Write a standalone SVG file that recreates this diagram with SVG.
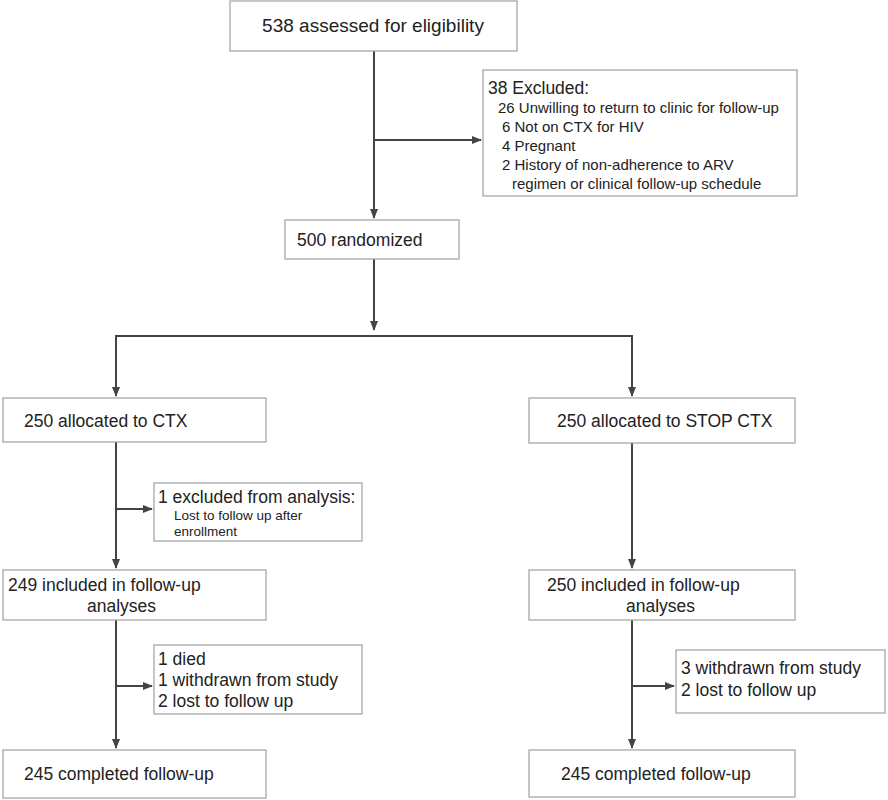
<svg xmlns="http://www.w3.org/2000/svg" width="888" height="800" viewBox="0 0 888 800">
<style>
.b{fill:#fff;stroke:#a0a0a0;stroke-width:1.2}
.l{stroke:#444;stroke-width:2;fill:none}
text{font-family:"Liberation Sans",Arial,sans-serif;fill:#222}
.m{font-size:17.5px}
.s{font-size:15px}
.t{font-size:13.5px}
</style>
<defs><marker id="a" markerWidth="10" markerHeight="8" refX="9" refY="4" orient="auto" markerUnits="userSpaceOnUse"><path d="M0,0L10,4L0,8z" fill="#444"/></marker></defs>
<rect width="888" height="800" fill="#fff"/>
<g id="connectors">
<path class="l" d="M374,51V218" marker-end="url(#a)"/>
<path class="l" d="M374,140H481" marker-end="url(#a)"/>
<path class="l" d="M374,259V330" marker-end="url(#a)"/>
<path class="l" d="M116,396V336H632V396" />
<path class="l" d="M116,380V396" marker-end="url(#a)"/>
<path class="l" d="M632,380V396" marker-end="url(#a)"/>
<path class="l" d="M116,442V568" marker-end="url(#a)"/>
<path class="l" d="M116,509H152" marker-end="url(#a)"/>
<path class="l" d="M632,443V568" marker-end="url(#a)"/>
<path class="l" d="M116,620V748" marker-end="url(#a)"/>
<path class="l" d="M116,686H152" marker-end="url(#a)"/>
<path class="l" d="M632,620V748" marker-end="url(#a)"/>
<path class="l" d="M632,686H674" marker-end="url(#a)"/>
</g>
<g id="n1"><rect class="b" x="230" y="1" width="287" height="50"/><text class="m" x="373" y="32" text-anchor="middle" style="font-size:19px">538 assessed for eligibility</text></g>
<g id="n2"><rect class="b" x="483" y="70" width="314" height="126"/>
<text class="m" x="488" y="94">38 Excluded:</text>
<text class="s" x="498" y="113">26 Unwilling to return to clinic for follow-up</text>
<text class="s" x="502" y="132">6 Not on CTX for HIV</text>
<text class="s" x="502" y="151">4 Pregnant</text>
<text class="s" x="502" y="170">2 History of non-adherence to ARV</text>
<text class="s" x="512" y="189">regimen or clinical follow-up schedule</text></g>
<g id="n3"><rect class="b" x="285" y="220" width="174" height="39"/><text class="m" x="297" y="246">500 randomized</text></g>
<g id="n4"><rect class="b" x="3" y="398" width="263" height="44"/><text class="m" x="24" y="427">250 allocated to CTX</text></g>
<g id="n5"><rect class="b" x="529" y="398" width="266" height="45"/><text class="m" x="557" y="427">250 allocated to STOP CTX</text></g>
<g id="n6"><rect class="b" x="154" y="483" width="208" height="58"/>
<text class="m" x="158" y="503">1 excluded from analysis:</text>
<text class="t" x="174" y="520">Lost to follow up after</text>
<text class="t" x="174" y="536">enrollment</text></g>
<g id="n7"><rect class="b" x="3" y="570" width="263" height="50"/><text class="m" x="8" y="591">249 included in follow-up</text><text class="m" x="87" y="612">analyses</text></g>
<g id="n8"><rect class="b" x="529" y="570" width="266" height="50"/><text class="m" x="547" y="591">250 included in follow-up</text><text class="m" x="626" y="612">analyses</text></g>
<g id="n9"><rect class="b" x="154" y="645" width="208" height="69"/>
<text class="m" x="158" y="665">1 died</text><text class="m" x="158" y="686">1 withdrawn from study</text><text class="m" x="158" y="707">2 lost to follow up</text></g>
<g id="n10"><rect class="b" x="676" y="650" width="209" height="63"/>
<text class="m" x="681" y="674">3 withdrawn from study</text><text class="m" x="681" y="696">2 lost to follow up</text></g>
<g id="n11"><rect class="b" x="3" y="750" width="263" height="48"/><text class="m" x="24" y="780">245 completed follow-up</text></g>
<g id="n12"><rect class="b" x="529" y="750" width="266" height="47"/><text class="m" x="561" y="780">245 completed follow-up</text></g>
</svg>
